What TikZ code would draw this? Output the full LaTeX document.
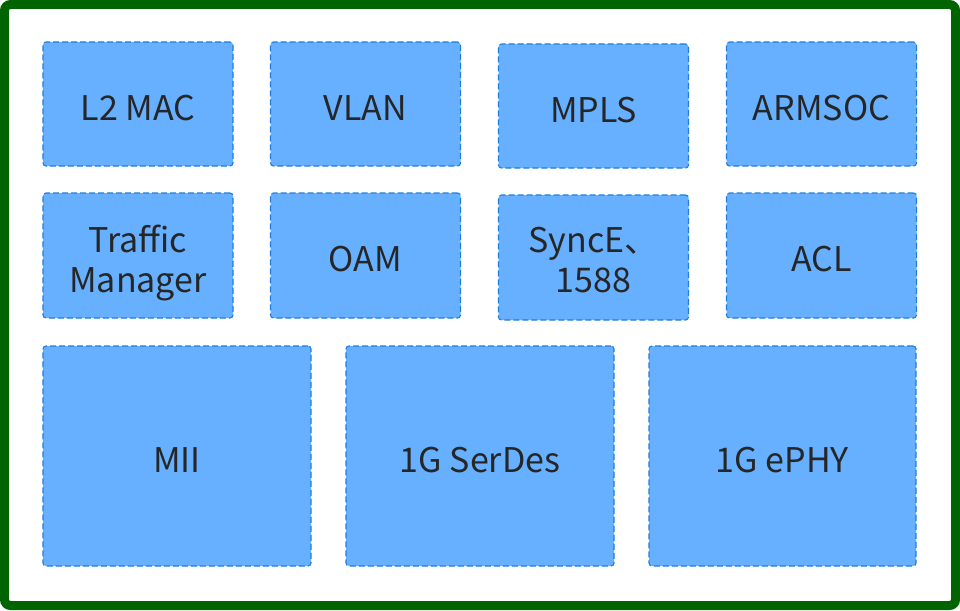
\documentclass[tikz,border=0pt]{standalone}
\usepackage{fontspec}
\setmainfont{Noto Sans CJK SC}
\definecolor{frame}{RGB}{0,100,0}
\definecolor{blkfill}{RGB}{102,176,255}
\definecolor{blkline}{RGB}{30,125,225}
\definecolor{txt}{RGB}{38,38,38}
\begin{document}
\begin{tikzpicture}[x=1pt,y=-1pt,
  blk/.style={draw=blkline,fill=blkfill,line width=1.1pt,dash pattern=on 6pt off 3pt,
    rounded corners=3pt,inner sep=0pt,align=center,text=txt,
    font=\fontsize{34}{40}\selectfont,text height=32pt,text depth=0pt},
  small/.style={blk,minimum width=190pt,minimum height=124pt},
  big/.style={blk,minimum width=268pt,minimum height=220pt}]
\useasboundingbox (0,0) rectangle (960,610);
\draw[frame,line width=9pt,rounded corners=6pt] (4.5,4.5) rectangle (955.5,605.5);

% first row
\node[small] (l2mac) at (138,104) {L2 MAC};
\node[small] (vlan) at (365.5,104) {VLAN};
\node[small] (mpls) at (593.5,106) {MPLS};
\node[small] (armsoc) at (821.5,104) {ARMSOC};

% second row
\node[small,minimum height=125pt,text height=73pt] (tm) at (138,255.5) {Traffic\\Manager};
\node[small,minimum height=125pt] (oam) at (365.5,255.5) {OAM};
\node[small,minimum height=125pt,text height=69pt] (sync) at (593.5,257.5) {SyncE、\\1588};
\node[small,minimum height=125pt] (acl) at (821.5,255.5) {ACL};

% third row
\node[big] (mii) at (177,456) {MII};
\node[big] (serdes) at (480,456) {1G SerDes};
\node[big,minimum width=267pt] (ephy) at (782.5,456) {1G ePHY};
\end{tikzpicture}
\end{document}
